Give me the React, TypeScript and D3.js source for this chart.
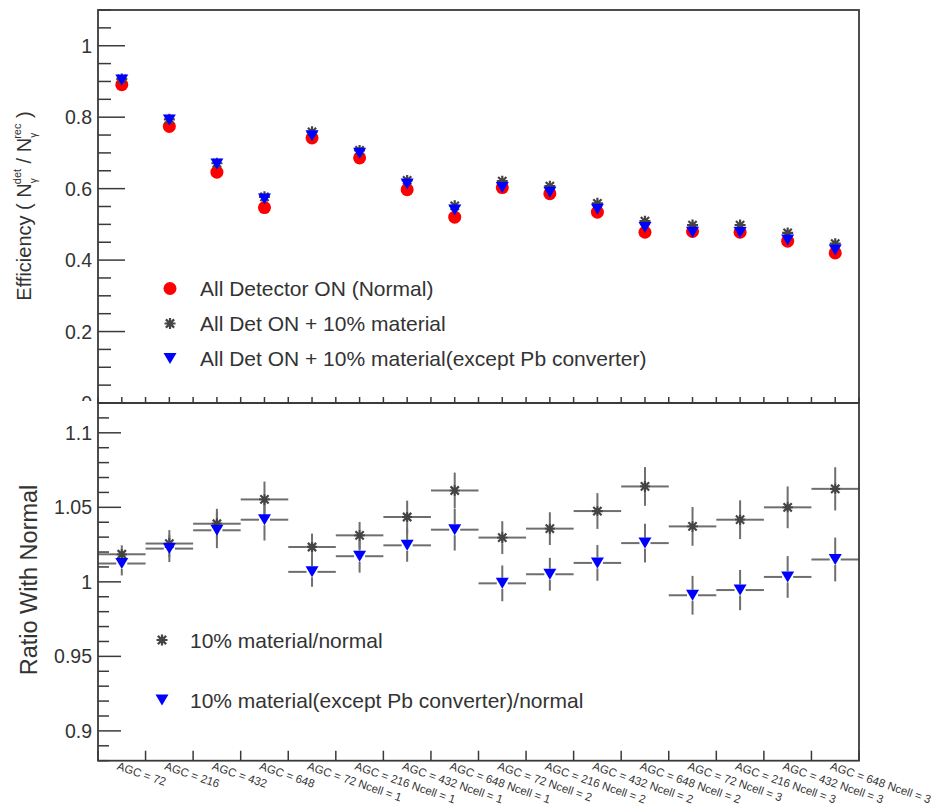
import React from "react";
import * as d3 from "d3";

const categories = [
  "AGC = 72", "AGC = 216", "AGC = 432", "AGC = 648",
  "AGC = 72 Ncell = 1", "AGC = 216 Ncell = 1", "AGC = 432 Ncell = 1", "AGC = 648 Ncell = 1",
  "AGC = 72 Ncell = 2", "AGC = 216 Ncell = 2", "AGC = 432 Ncell = 2", "AGC = 648 Ncell = 2",
  "AGC = 72 Ncell = 3", "AGC = 216 Ncell = 3", "AGC = 432 Ncell = 3", "AGC = 648 Ncell = 3",
];

// Top panel: efficiency
const effNormal = [0.891, 0.774, 0.646, 0.547, 0.742, 0.686, 0.597, 0.520, 0.603, 0.586, 0.534, 0.478, 0.480, 0.478, 0.453, 0.420];
const effMaterial = [0.907, 0.794, 0.671, 0.577, 0.759, 0.707, 0.623, 0.552, 0.621, 0.607, 0.559, 0.509, 0.498, 0.498, 0.476, 0.446];
const effMaterialNoPb = [0.904, 0.792, 0.669, 0.571, 0.748, 0.699, 0.613, 0.540, 0.603, 0.590, 0.542, 0.491, 0.478, 0.477, 0.456, 0.428];

// Bottom panel: ratios
const ratioMaterial = [1.0185, 1.0257, 1.039, 1.0553, 1.0234, 1.0312, 1.0435, 1.0613, 1.0297, 1.0357, 1.0475, 1.064, 1.0372, 1.0417, 1.050, 1.0624];
const ratioMaterialErr = [0.006, 0.009, 0.010, 0.012, 0.009, 0.009, 0.011, 0.012, 0.011, 0.011, 0.012, 0.013, 0.013, 0.013, 0.014, 0.0145];
const ratioNoPb = [1.0123, 1.0223, 1.0346, 1.0417, 1.0067, 1.0172, 1.0245, 1.035, 0.999, 1.0051, 1.0127, 1.026, 0.991, 0.9945, 1.0033, 1.015];
const ratioNoPbErr = [0.008, 0.009, 0.012, 0.014, 0.010, 0.011, 0.011, 0.014, 0.012, 0.011, 0.012, 0.013, 0.013, 0.0135, 0.014, 0.0147];

const topTicks = [0, 0.2, 0.4, 0.6, 0.8, 1];
const bottomTicks = [0.9, 0.95, 1, 1.05, 1.1];

const topLegend = [
  "All Detector ON (Normal)",
  "All Det ON + 10% material",
  "All Det ON + 10% material(except Pb converter)",
];
const bottomLegend = ["10% material/normal", "10% material(except Pb converter)/normal"];

const FONT = "'Liberation Sans', Arial, Helvetica, sans-serif";
const AX = "#3a3a3a";
const ERR = "#6e6e6e";

const L = 98, R = 859, T = 10, MID = 403, B = 760.7;

function Star({ cx, cy, s = 5.5 }: { cx: number; cy: number; s?: number }) {
  const a = s * 0.75;
  const d = `M${cx - s},${cy}L${cx + s},${cy}M${cx},${cy - s}L${cx},${cy + s}M${cx - a},${cy - a}L${cx + a},${cy + a}M${cx - a},${cy + a}L${cx + a},${cy - a}`;
  return <path d={d} stroke="#444" strokeWidth={2.2} fill="none" />;
}

function Tri({ cx, cy }: { cx: number; cy: number }) {
  const w = 6.5, h = 5.5;
  return <path d={`M${cx - w},${cy - h}L${cx + w},${cy - h}L${cx},${cy + h}Z`} fill="#0000ff" />;
}

function Dot({ cx, cy }: { cx: number; cy: number }) {
  return <circle cx={cx} cy={cy} r={6.5} fill="#ff0000" />;
}

export default function App() {
  const x = d3.scaleBand<string>().domain(categories).range([L, R]).padding(0);
  const bw = x.bandwidth();
  const cx = (i: number) => (x(categories[i]) as number) + bw / 2;
  const yTop = d3.scaleLinear().domain([0, 1.1]).range([MID, T]);
  const yBot = d3.scaleLinear().domain([0.88, 1.12]).range([B, MID]);

  const topMinor = d3.range(0, 1.1001, 0.05);
  const botMinor = d3.range(0.88, 1.1201, 0.01);
  const edges = d3.range(0, categories.length + 1).map((i) => L + i * bw);
  const gap = 5.5;

  const errBars = (vals: number[], errs: number[], key: string) =>
    vals.map((v, i) => {
      const px = cx(i);
      const py = yBot(v);
      const yHi = yBot(v + errs[i]);
      const yLo = yBot(v - errs[i]);
      const x0 = x(categories[i]) as number;
      return (
        <g key={key + i} stroke={ERR} strokeWidth={2}>
          <line x1={x0} x2={px - gap} y1={py} y2={py} />
          <line x1={px + gap} x2={x0 + bw} y1={py} y2={py} />
          <line x1={px} x2={px} y1={yHi} y2={py - gap} />
          <line x1={px} x2={px} y1={py + gap} y2={yLo} />
        </g>
      );
    });

  return (
    <svg width={940} height={811} style={{ position: "fixed", left: 0, top: 0, background: "#fff" }} fontFamily={FONT}>
      <defs>
        <clipPath id="zeroClip">
          <rect x={0} y={0} width={98} height={401} />
        </clipPath>
      </defs>
      <rect x={0} y={0} width={940} height={811} fill="#fff" />

      {/* Top panel ticks */}
      {topMinor.map((v, i) => {
        const major = Math.abs(v / 0.2 - Math.round(v / 0.2)) < 1e-6;
        return <line key={"tm" + i} x1={L} x2={L + (major ? 27 : 13)} y1={yTop(v)} y2={yTop(v)} stroke={AX} strokeWidth={1.5} />;
      })}
      {topTicks.map((v) => (
        <text key={"tl" + v} x={92} y={yTop(v)} dy="0.36em" textAnchor="end" fontSize={19.5} fill="#333"
          clipPath={v === 0 ? "url(#zeroClip)" : undefined}>
          {d3.format("~g")(v)}
        </text>
      ))}
      {/* ticks along top panel bottom edge (centers + edges) */}
      {categories.map((c, i) => (
        <line key={"tc" + i} x1={cx(i)} x2={cx(i)} y1={MID} y2={MID - 6} stroke={AX} strokeWidth={1.5} />
      ))}
      {edges.map((e, i) => (
        <line key={"te" + i} x1={e} x2={e} y1={MID} y2={MID - 6} stroke={AX} strokeWidth={1.5} />
      ))}

      {/* Top panel data */}
      {effNormal.map((v, i) => <Dot key={"n" + i} cx={cx(i)} cy={yTop(v)} />)}
      {effMaterial.map((v, i) => <Star key={"m" + i} cx={cx(i)} cy={yTop(v)} />)}
      {effMaterialNoPb.map((v, i) => <Tri key={"p" + i} cx={cx(i)} cy={yTop(v)} />)}

      {/* Top legend */}
      <Dot cx={170} cy={288.5} />
      <Star cx={170} cy={323.5} />
      <Tri cx={170} cy={358.5} />
      {topLegend.map((t, i) => (
        <text key={"lg" + i} x={200} y={288.5 + i * 35} dy="0.36em" fontSize={21} fill="#333">{t}</text>
      ))}

      {/* Top y title */}
      <text transform="translate(31,206) rotate(-90)" textAnchor="middle" fontSize={20} fill="#333">
        Efficiency ( N
        <tspan fontSize={10} dy={6}>γ</tspan>
        <tspan fontSize={11} dx={-6} dy={-16}>det</tspan>
        <tspan dy={10}> / N</tspan>
        <tspan fontSize={10} dy={6}>γ</tspan>
        <tspan fontSize={11} dx={-6} dy={-16}>rec</tspan>
        <tspan dy={10}> )</tspan>
      </text>

      {/* Bottom panel ticks */}
      {botMinor.map((v, i) => {
        const major = Math.abs(v / 0.05 - Math.round(v / 0.05)) < 1e-6;
        return <line key={"bm" + i} x1={L} x2={L + (major ? 23 : 11)} y1={yBot(v)} y2={yBot(v)} stroke={AX} strokeWidth={1.5} />;
      })}
      {bottomTicks.map((v) => (
        <text key={"bl" + v} x={92} y={yBot(v)} dy="0.36em" textAnchor="end" fontSize={19.5} fill="#333">
          {d3.format("~g")(v)}
        </text>
      ))}
      {edges.map((e, i) => (
        <line key={"be" + i} x1={e} x2={e} y1={B} y2={B - 10} stroke={AX} strokeWidth={1.5} />
      ))}

      {/* Bottom data */}
      {errBars(ratioMaterial, ratioMaterialErr, "em")}
      {errBars(ratioNoPb, ratioNoPbErr, "ep")}
      {ratioMaterial.map((v, i) => <Star key={"rm" + i} cx={cx(i)} cy={yBot(v)} />)}
      {ratioNoPb.map((v, i) => <Tri key={"rp" + i} cx={cx(i)} cy={yBot(v)} />)}

      {/* Bottom legend */}
      <Star cx={162} cy={640} />
      <Tri cx={162} cy={700} />
      {bottomLegend.map((t, i) => (
        <text key={"bg" + i} x={190} y={640 + i * 60} dy="0.36em" fontSize={21} fill="#333">{t}</text>
      ))}

      {/* Bottom y title */}
      <text transform="translate(37,580) rotate(-90)" textAnchor="middle" fontSize={23.5} fill="#333">Ratio With Normal</text>

      {/* X category labels */}
      {categories.map((c, i) => (
        <text key={"xl" + i} transform={`translate(${cx(i) - 3},${B + 1}) rotate(19)`} fontSize={11.5} fill="#333"
          dominantBaseline="hanging">
          {c}
        </text>
      ))}

      {/* Frames */}
      <rect x={L} y={T} width={R - L} height={MID - T} fill="none" stroke={AX} strokeWidth={1.8} />
      <rect x={L} y={MID} width={R - L} height={B - MID} fill="none" stroke={AX} strokeWidth={1.8} />
    </svg>
  );
}
